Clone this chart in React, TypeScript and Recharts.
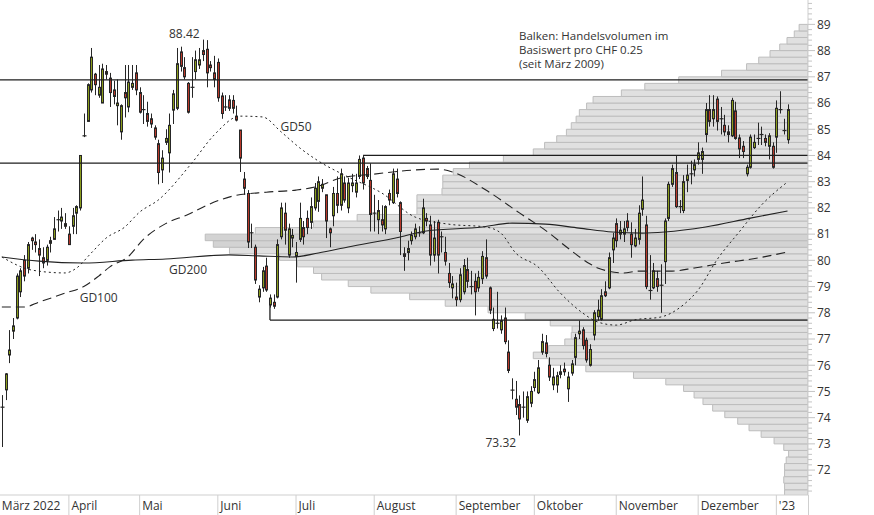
import {
  ComposedChart,
  Bar,
  Line,
  XAxis,
  YAxis,
  ReferenceArea,
  ReferenceLine,
  ReferenceDot,
} from "recharts";

// daily candles, März 2022 .. Jan 2023
const opens = [
  74.4, 75.06, 76.39, 77.3, 77.8, 78.8, 80.0, 79.7, 80.85, 80.7,
  80.45, 80.1, 80.0, 80.65, 80.8, 81.55, 81.5, 81.4, 81.0, 81.3,
  81.8, 82.0, 84.75, 85.3, 86.5, 87.1, 86.3, 86.0, 87.2, 86.95,
  86.5, 85.9, 84.9, 86.4, 85.85, 86.6, 87.15, 86.4, 85.75, 85.6,
  85.4, 85.05, 84.45, 83.45, 84.5, 84.1, 85.73, 85.8, 87.95, 87.35,
  86.75, 86.6, 87.2, 87.45, 88.0, 88.05, 87.45, 87.15, 87.55, 86.27,
  85.85, 86.12, 86.1, 85.5, 84.97, 83.1, 82.55, 81.05, 80.5, 78.6,
  78.95, 79.78, 78.3, 78.4, 78.6, 80.9, 81.8, 80.2, 80.85, 80.15,
  80.8, 81.25, 81.6, 81.45, 82.0, 82.25, 82.75, 82.5, 81.2, 81.7,
  82.55, 82.1, 82.95, 82.0, 82.85, 82.6, 83.2, 83.9, 83.5, 83.05,
  81.8, 81.55, 81.55, 81.2, 82.55, 82.2, 83.1, 82.2, 80.25, 80.3,
  80.75, 80.9, 81.05, 81.05, 81.6, 81.35, 80.2, 81.45, 80.9, 80.3,
  79.5, 78.95, 78.6, 78.5, 78.8, 79.65, 79.0, 79.2, 78.95, 79.3,
  80.1, 78.95, 77.4, 77.6, 77.35, 77.8, 76.5, 75.05, 74.7, 74.5,
  74.4, 73.9, 74.55, 75.15, 74.95, 76.5, 76.85, 76.0, 75.25, 75.25,
  75.65, 75.85, 75.1, 75.7, 76.3, 77.2, 77.35, 76.95, 76.0, 77.15,
  77.85, 77.75, 78.8, 78.95, 80.4, 81.4, 81.0, 81.0, 81.5, 81.0,
  80.55, 80.8, 81.95, 81.35, 78.85, 78.95, 79.3, 79.05, 79.95, 81.6,
  82.9, 83.35, 82.05, 81.9, 83.05, 83.3, 83.45, 83.85, 83.85, 84.8,
  85.75, 85.4, 86.15, 85.4, 85.15, 84.9, 84.75, 85.7, 84.67, 84.35,
  83.3, 83.55, 84.3, 84.65, 84.8, 84.65, 84.35, 84.35, 84.7, 85.75,
  84.95, 84.6,
];
const highs = [
  74.86, 75.7, 77.34, 77.8, 79.5, 79.7, 80.2, 80.7, 80.9, 81.0,
  80.8, 80.5, 80.6, 80.9, 81.65, 81.9, 82.0, 81.8, 81.3, 82.0,
  82.1, 84.0, 85.6, 86.75, 88.1, 87.15, 87.45, 87.5, 87.45, 87.15,
  86.85, 86.9, 85.95, 87.45, 87.45, 87.45, 87.45, 86.6, 86.3, 86.05,
  85.6, 85.15, 84.6, 84.2, 85.0, 85.6, 86.5, 88.1, 88.15, 87.75,
  86.8, 87.75, 88.0, 88.1, 88.42, 88.4, 87.6, 87.8, 87.7, 86.4,
  86.3, 86.3, 86.3, 85.9, 84.97, 83.37, 82.68, 81.4, 80.6, 79.05,
  79.75, 80.1, 78.7, 78.7, 80.8, 82.2, 82.2, 81.4, 81.2, 80.7,
  82.2, 81.5, 81.9, 82.4, 82.95, 83.2, 83.1, 82.5, 81.25, 82.8,
  83.2, 83.5, 83.2, 83.15, 83.3, 83.3, 84.0, 84.0, 83.6, 83.7,
  82.5, 82.3, 82.1, 82.1, 82.7, 83.5, 83.5, 82.25, 80.5, 80.75,
  81.1, 81.4, 81.3, 82.35, 81.8, 81.7, 81.5, 81.55, 81.1, 80.9,
  79.9, 79.4, 79.15, 79.7, 80.05, 80.1, 79.6, 79.5, 79.6, 80.35,
  80.8, 79.0, 78.2, 78.8, 77.9, 78.2, 76.95, 75.5, 75.4, 74.85,
  75.0, 75.0, 75.2, 75.75, 76.2, 77.2, 77.15, 76.3, 75.9, 75.75,
  76.0, 76.1, 75.75, 76.2, 77.2, 77.7, 77.45, 77.05, 76.8, 78.1,
  78.5, 78.9, 79.2, 80.3, 81.05, 81.6, 81.5, 81.5, 81.8, 81.45,
  81.2, 82.1, 83.2, 81.7, 80.2, 79.9, 79.6, 79.85, 81.6, 83.0,
  83.65, 84.0, 82.3, 83.25, 83.65, 83.8, 83.85, 84.5, 84.3, 86.0,
  86.3, 86.3, 86.25, 85.85, 85.55, 85.15, 86.2, 86.05, 84.8, 84.55,
  83.65, 84.8, 84.8, 85.25, 85.1, 84.8, 84.85, 84.5, 86.1, 86.45,
  85.4, 85.95,
];
const lows = [
  72.88, 74.67, 76.08, 77.0, 77.75, 78.6, 79.2, 79.5, 80.4, 80.3,
  79.4, 79.7, 79.8, 80.3, 80.8, 81.1, 81.2, 81.2, 80.6, 81.0,
  81.0, 81.9, 84.7, 85.3, 86.4, 86.3, 86.2, 86.0, 86.9, 85.85,
  85.95, 85.15, 84.6, 85.45, 85.65, 86.5, 86.3, 85.6, 85.2, 85.1,
  85.05, 84.6, 82.9, 82.95, 84.4, 83.35, 85.2, 85.73, 87.2, 86.9,
  85.6, 86.2, 86.9, 87.3, 87.6, 86.6, 87.2, 86.6, 86.05, 85.4,
  85.7, 85.7, 85.6, 85.3, 83.37, 82.5, 80.47, 80.47, 79.1, 78.4,
  78.8, 78.8, 78.2, 78.15, 78.55, 80.8, 80.6, 80.1, 80.5, 79.15,
  80.7, 80.6, 81.0, 81.2, 81.9, 81.85, 82.6, 80.85, 80.5, 81.3,
  81.8, 81.9, 82.2, 81.8, 82.6, 82.4, 83.1, 82.7, 83.1, 81.1,
  81.1, 81.0, 81.1, 81.0, 82.1, 82.15, 82.4, 80.2, 79.6, 80.0,
  80.6, 80.8, 80.9, 81.0, 81.3, 79.8, 79.95, 79.5, 80.3, 79.8,
  78.95, 78.55, 78.25, 78.4, 78.7, 78.95, 78.7, 77.9, 78.8, 79.1,
  79.3, 77.95, 77.3, 77.4, 77.2, 76.8, 75.7, 74.7, 74.1, 73.32,
  74.0, 73.8, 74.4, 75.0, 74.9, 76.4, 76.3, 75.4, 75.05, 74.95,
  75.5, 75.6, 74.6, 75.6, 76.0, 77.0, 76.6, 76.1, 75.95, 76.95,
  77.7, 77.7, 78.6, 78.9, 79.9, 80.5, 80.8, 80.7, 81.1, 80.1,
  80.5, 80.6, 81.7, 78.9, 78.5, 78.9, 78.8, 78.0, 79.1, 81.5,
  82.8, 82.0, 81.8, 81.8, 82.6, 82.9, 83.2, 83.65, 83.3, 84.5,
  85.1, 85.1, 84.95, 84.8, 84.75, 84.5, 84.7, 84.6, 83.9, 83.9,
  83.2, 83.5, 84.25, 84.4, 84.4, 84.35, 83.85, 83.5, 84.1, 85.6,
  84.8, 84.45,
];
const closes = [
  74.45, 75.67, 76.58, 77.5, 79.4, 79.6, 79.4, 80.6, 80.75, 80.6,
  80.2, 79.9, 80.5, 80.75, 81.2, 81.55, 81.65, 81.3, 80.6, 81.7,
  82.05, 84.0, 84.75, 86.7, 87.75, 86.7, 86.6, 87.3, 87.1, 86.4,
  86.25, 86.0, 85.9, 86.2, 86.8, 86.75, 86.5, 85.65, 85.75, 85.3,
  85.2, 84.7, 83.35, 83.9, 84.65, 85.15, 86.35, 87.5, 87.4, 87.0,
  85.65, 86.6, 87.65, 87.65, 87.85, 87.15, 87.35, 86.9, 86.2, 85.6,
  85.85, 85.8, 85.8, 85.35, 83.9, 82.75, 80.7, 81.05, 79.25, 78.9,
  79.6, 78.87, 78.56, 78.25, 80.6, 82.0, 81.15, 81.2, 80.95, 80.3,
  81.6, 80.9, 81.25, 82.05, 82.75, 83.0, 82.9, 81.5, 81.05, 82.55,
  82.1, 83.3, 82.3, 82.95, 82.95, 82.95, 83.85, 82.95, 83.2, 81.75,
  81.8, 81.9, 81.35, 82.05, 82.3, 83.3, 82.55, 81.1, 80.15, 80.45,
  80.95, 81.2, 81.05, 82.0, 81.5, 80.2, 80.85, 80.2, 80.9, 79.97,
  79.15, 79.1, 78.5, 79.45, 79.8, 79.2, 79.0, 78.8, 79.35, 80.15,
  79.4, 78.1, 77.75, 77.6, 77.7, 76.9, 75.8, 75.05, 74.4, 73.95,
  74.4, 74.8, 75.0, 75.45, 75.9, 76.9, 76.45, 75.55, 75.55, 75.6,
  75.75, 75.75, 75.55, 76.05, 77.05, 77.3, 76.75, 76.2, 76.6, 78.0,
  78.1, 78.65, 78.65, 80.1, 80.85, 80.75, 81.15, 81.2, 81.25, 80.6,
  80.85, 81.8, 82.3, 79.0, 78.85, 79.6, 79.0, 79.05, 81.5, 82.9,
  83.5, 82.05, 82.05, 83.0, 83.25, 83.3, 83.65, 84.1, 84.15, 85.75,
  85.3, 85.75, 85.3, 85.4, 84.9, 84.8, 86.1, 84.65, 84.25, 84.15,
  83.55, 84.7, 84.5, 84.65, 84.8, 84.5, 84.75, 83.55, 85.8, 85.75,
  84.95, 85.75,
];

// moving averages: [day index, value]
const gd50Points: [number, number][] = [
  [0, 80.13], [8, 79.63], [17, 79.52], [20, 79.7], [24, 80.28], [28, 80.85],
  [33, 81.27], [37, 81.84], [42, 82.3], [51, 83.71], [57, 84.78], [64, 85.5],
  [70, 85.47], [75, 84.9], [80, 84.29], [85, 83.79], [93, 83.18], [102, 82.57],
  [111, 81.65], [120, 81.38], [130, 81.27], [134, 81.04], [138, 80.28], [144, 79.75],
  [150, 78.75], [156, 77.99], [160, 77.65], [165, 77.53], [170, 77.73], [177, 77.84],
  [183, 78.3], [187, 78.87], [192, 80.01], [198, 81.08], [204, 82.11], [211, 82.99],
];
const gd100Points: [number, number][] = [
  [0, 78.22], [6, 78.22], [10, 78.41], [17, 78.75], [22, 79.0], [26, 79.4],
  [29, 79.75], [34, 80.15], [38, 80.8], [44, 81.4], [50, 81.75], [55, 82.1],
  [62, 82.45], [71, 82.6], [79, 82.68], [85, 82.83], [91, 83.14], [100, 83.29],
  [110, 83.44], [117, 83.48], [121, 83.37], [130, 82.68], [139, 81.81], [147, 81.04],
  [152, 80.47], [158, 79.86], [160, 79.71], [167, 79.52], [171, 79.59], [180, 79.59],
  [186, 79.71], [194, 79.9], [203, 80.09], [211, 80.32],
];
const gd200Points: [number, number][] = [
  [0, 80.13], [10, 79.97], [22, 79.9], [35, 80.01], [44, 80.05], [61, 80.21],
  [69, 80.17], [78, 80.13], [85, 80.28], [93, 80.51], [107, 80.89], [114, 81.12],
  [129, 81.27], [137, 81.42], [146, 81.38], [155, 81.23], [164, 81.08], [172, 81.04],
  [178, 81.08], [189, 81.27], [201, 81.61], [211, 81.88],
];

// volume profile per CHF 0.25 from 71.00 upwards (relative)
const profileStart = 71;
const profileStep = 0.25;
const profileVolumes = [
  2.9, 2.9, 3.0, 2.9, 2.9, 2.7, 2.4, 3.0, 4.2, 5.8,
  7.3, 8.7, 10.3, 11.8, 13.0, 14.1, 15.4, 17.6, 21.6, 27.5,
  32.1, 34.0, 32.1, 30.1, 29.3, 29.2, 31.9, 35.0, 39.6, 44.9,
  49.3, 54.1, 56.9, 60.2, 61.2, 63.2, 65.4, 71.6, 73.6, 74.6,
  68.4, 61.2, 55.8, 48.4, 48.4, 48.4, 45.3, 45.2, 45.2, 43.9,
  41.9, 37.7, 34.0, 32.6, 31.1, 29.9, 29.3, 28.7, 28.3, 27.4,
  26.6, 23.1, 20.2, 16.0, 10.7, 7.6, 6.1, 4.7, 3.5, 2.6,
  1.7, 1.1,
];
const profileDark = [38, 39];

const monthTicks = [0, 18, 37, 58, 79, 100, 122, 143, 165, 187, 208];
const monthLabels = [
  "März 2022", "April", "Mai", "Juni", "Juli", "August",
  "September", "Oktober", "November", "Dezember", "'23",
];

const SLOTS = 217;
const FONT = "'Open Sans', 'Noto Sans', sans-serif";

const data: any[] = Array.from({ length: SLOTS }, (_, i) => ({
  i,
  o: opens[i],
  h: highs[i],
  l: lows[i],
  c: closes[i],
  gd50: null,
  gd100: null,
  gd200: null,
}));
gd50Points.forEach(([i, v]) => (data[i].gd50 = v));
gd100Points.forEach(([i, v]) => (data[i].gd100 = v));
gd200Points.forEach(([i, v]) => (data[i].gd200 = v));

const priceTicks = Array.from({ length: 94 }, (_, k) => Math.round((71.2 + k * 0.2) * 10) / 10);

function Candle(props: any) {
  const { x, y, width, height } = props;
  const p = props.payload || props;
  if (p == null || p.h == null || x == null) return null;
  const { o, h, l, c } = p;
  const top = Math.min(y, y + height);
  const span = Math.abs(height);
  const k = span / (h - l);
  const py = (v: number) => top + (h - v) * k;
  const cx = Math.round(x + width / 2) + 0.5;
  const up = c >= o;
  const bodyTop = py(Math.max(o, c));
  const bodyBot = py(Math.min(o, c));
  return (
    <g>
      <line x1={cx} x2={cx} y1={top} y2={top + span} stroke="#262626" strokeWidth={1} />
      {Math.abs(o - c) < 0.05 ? (
        <line x1={cx - 2} x2={cx + 2} y1={py(o)} y2={py(o)} stroke="#262626" strokeWidth={1.2} />
      ) : (
        <rect
          x={cx - 1}
          y={bodyTop}
          width={2}
          height={Math.max(1, bodyBot - bodyTop)}
          fill={up ? "#8a9c1c" : "#b8382a"}
          stroke="#262626"
          strokeWidth={1}
        />
      )}
    </g>
  );
}

function MonthTick({ x, y, payload }: any) {
  const idx = monthTicks.indexOf(payload.value);
  const first = idx === 0;
  return (
    <g>
      {!first && <line x1={x} x2={x} y1={y} y2={y + 20} stroke="#cfcfcf" />}
      <text x={first ? x : x + 2.5} y={y + 15} fontSize={12} fill="#333" fontFamily={FONT}>
        {monthLabels[idx]}
      </text>
    </g>
  );
}

function PriceTick({ x, y, payload }: any) {
  const v = payload.value;
  const major = Math.abs(v - Math.round(v)) < 0.01;
  return (
    <g>
      <line x1={x} x2={x + (major ? 7 : 4)} y1={y} y2={y} stroke="#c4c4c4" />
      {major && (
        <text x={x + 9} y={y} dy="0.36em" fontSize={12} fill="#333" fontFamily={FONT}>
          {Math.round(v)}
        </text>
      )}
    </g>
  );
}

const labelStyle = { fill: "#333", fontSize: 12, fontFamily: FONT };
const blackLine = { stroke: "#1e1e1e", strokeWidth: 1.3 };

export default function App() {
  return (
    <div style={{ position: "absolute", left: 0, top: 0, width: 874, height: 515, background: "#fff", fontFamily: FONT }}>
      <ComposedChart width={874} height={515} data={data} margin={{ top: 0, right: 0, bottom: 0, left: 0 }}>
        <XAxis
          xAxisId="c"
          dataKey="i"
          type="category"
          ticks={monthTicks}
          interval={0}
          height={20}
          tickSize={0}
          tickMargin={0}
          tickLine={false}
          axisLine={{ stroke: "#cfcfcf" }}
          tick={<MonthTick />}
        />
        <XAxis xAxisId="vol" dataKey="i" type="number" domain={[0, 100]} reversed hide allowDataOverflow />
        <XAxis xAxisId="pos" dataKey="i" type="number" domain={[0, SLOTS]} hide allowDataOverflow />
        <YAxis
          yAxisId="p"
          orientation="right"
          type="number"
          domain={[71.05, 89.93]}
          allowDataOverflow
          ticks={priceTicks}
          interval={0}
          width={66}
          tickSize={0}
          tickMargin={0}
          tickLine={false}
          axisLine={{ stroke: "#cfcfcf" }}
          tick={<PriceTick />}
        />

        {profileVolumes.map((v, k) => (
          <ReferenceArea
            key={"pv" + k}
            xAxisId="vol"
            yAxisId="p"
            x1={0}
            x2={v}
            y1={profileStart + k * profileStep}
            y2={profileStart + (k + 1) * profileStep}
            fill={profileDark.includes(k) ? "#d3d3d3" : "#e0e0e0"}
            fillOpacity={1}
            stroke="#bdbdbd"
            strokeWidth={1}
            ifOverflow="hidden"
          />
        ))}

        <ReferenceLine xAxisId="c" yAxisId="p" y={86.88} {...blackLine} />
        <ReferenceLine xAxisId="c" yAxisId="p" y={83.71} {...blackLine} />
        <ReferenceLine
          xAxisId="pos"
          yAxisId="p"
          segment={[{ x: 97.5, y: 84.0 }, { x: SLOTS, y: 84.0 }]}
          ifOverflow="hidden"
          {...blackLine}
        />
        <ReferenceLine
          xAxisId="pos"
          yAxisId="p"
          segment={[{ x: 72.5, y: 77.72 }, { x: SLOTS, y: 77.72 }]}
          ifOverflow="hidden"
          {...blackLine}
        />
        <ReferenceLine
          xAxisId="pos"
          yAxisId="p"
          segment={[{ x: 72.5, y: 78.3 }, { x: 72.5, y: 77.72 }]}
          ifOverflow="hidden"
          {...blackLine}
        />

        <Line xAxisId="c" yAxisId="p" dataKey="gd200" type="monotone" stroke="#222" strokeWidth={1.1} dot={false} activeDot={false} connectNulls isAnimationActive={false} />
        <Line xAxisId="c" yAxisId="p" dataKey="gd100" type="monotone" stroke="#222" strokeWidth={1.1} strokeDasharray="9 5" dot={false} activeDot={false} connectNulls isAnimationActive={false} />
        <Line xAxisId="c" yAxisId="p" dataKey="gd50" type="monotone" stroke="#222" strokeWidth={1} strokeDasharray="2 3" dot={false} activeDot={false} connectNulls isAnimationActive={false} />

        <Bar
          xAxisId="c"
          yAxisId="p"
          dataKey={(d: any) => (d.h == null ? null : [d.l, d.h])}
          shape={<Candle />}
          isAnimationActive={false}
        />

        <ReferenceDot xAxisId="c" yAxisId="p" x={49} y={88.42} r={0} fill="none" stroke="none"
          label={{ value: "88.42", position: "top", offset: 2, ...labelStyle }} />
        <ReferenceDot xAxisId="c" yAxisId="p" x={134} y={73.32} r={0} fill="none" stroke="none"
          label={{ value: "73.32", position: "bottom", offset: 3, ...labelStyle }} />
        <ReferenceDot xAxisId="c" yAxisId="p" x={79} y={85.08} r={0} fill="none" stroke="none"
          label={{ value: "GD50", position: "center", ...labelStyle }} />
        <ReferenceDot xAxisId="c" yAxisId="p" x={50} y={79.63} r={0} fill="none" stroke="none"
          label={{ value: "GD200", position: "center", ...labelStyle }} />
        <ReferenceDot xAxisId="c" yAxisId="p" x={26} y={78.58} r={0} fill="none" stroke="none"
          label={{ value: "GD100", position: "center", ...labelStyle }} />
      </ComposedChart>
      <div style={{ position: "absolute", left: 808, top: 495, width: 1, height: 20, background: "#cfcfcf" }} />
      <div style={{ position: "absolute", left: 519, top: 29, fontSize: 11.5, lineHeight: "14px", color: "#333", whiteSpace: "nowrap" }}>
        <div>Balken: Handelsvolumen im</div>
        <div>Basiswert pro CHF 0.25</div>
        <div>(seit März 2009)</div>
      </div>
    </div>
  );
}
